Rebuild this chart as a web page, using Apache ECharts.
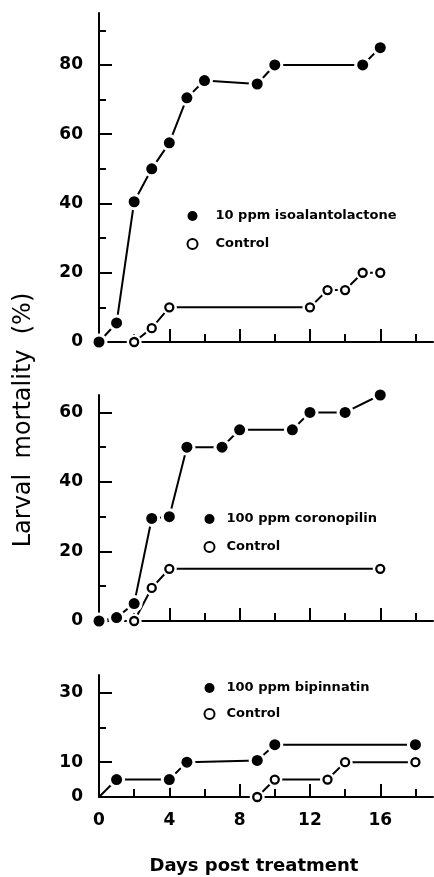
<!DOCTYPE html>
<html>
<head>
<meta charset="utf-8">
<script src="https://cdn.jsdelivr.net/npm/echarts@6/dist/echarts.min.js"></script>
<style>
html,body{margin:0;padding:0;background:#fff;}
#chart{width:434px;height:877px;}
</style>
</head>
<body>
<div id="chart"></div>
<script>
// ---- data ----
const isoDays = [0, 1, 2, 3, 4, 5, 6, 9, 10, 15, 16];
const isoVals = [0, 5.5, 40.5, 50, 57.5, 70.5, 75.5, 74.5, 80, 80, 85];
const ctl1Days = [2, 3, 4, 12, 13, 14, 15, 16];
const ctl1Vals = [0, 4, 10, 10, 15, 15, 20, 20];

const corDays = [0, 1, 2, 3, 4, 5, 7, 8, 11, 12, 14, 16];
const corVals = [0, 1, 5, 29.5, 30, 50, 50, 55, 55, 60, 60, 65];
const ctl2Days = [2, 3, 4, 16];
const ctl2Vals = [0, 9.5, 15, 15];

const bipDays = [0, 1, 4, 5, 9, 10, 18];
const bipVals = [0, 5, 5, 10, 10.5, 15, 15];
const ctl3Days = [9, 10, 13, 14, 18];
const ctl3Vals = [0, 5, 5, 10, 10];

const labels = ['10 ppm isoalantolactone', '100 ppm coronopilin', '100 ppm bipinnatin'];
const controlLabel = 'Control';
const xMajorTicks = [4, 8, 12, 16];
const xMinorTicks = [2, 6, 10, 14, 18];
const xTickLabels = [0, 4, 8, 12, 16];
const yMax = [95, 65, 35];
const yMajorTicks = [[20, 40, 60, 80], [20, 40, 60], [10, 30]];
const yMinorTicks = [[10, 30, 50, 70, 90], [10, 30, 50], [20]];
const yTickLabels = [[0, 20, 40, 60, 80], [0, 20, 40, 60], [0, 10, 30]];

// ---- layout ----
const FONT = 'DejaVu Sans';
const grids = [
  {left: 99, top: 13, width: 334, height: 329},
  {left: 99, top: 395, width: 334, height: 226},
  {left: 99, top: 675, width: 334, height: 122}
];
const black = '#000';

const xAxes = [], yAxes = [], series = [], legends = [];
grids.forEach((g, i) => {
  xAxes.push({
    gridIndex: i, type: 'value', min: 0, max: 19, position: 'bottom',
    axisLine: {show: true, onZero: false, lineStyle: {color: black, width: 2}},
    axisTick: {show: true, inside: true, length: 13, lineStyle: {color: black, width: 2}, customValues: xMajorTicks},
    axisLabel: {show: i === 2, customValues: xTickLabels, margin: 15, fontSize: 17, fontWeight: 'bold', fontFamily: FONT, color: black},
    splitLine: {show: false}
  });
  xAxes.push({
    gridIndex: i, type: 'value', min: 0, max: 19, position: 'bottom',
    axisLine: {show: false, onZero: false},
    axisTick: {show: true, inside: true, length: 8, lineStyle: {color: black, width: 2}, customValues: xMinorTicks},
    axisLabel: {show: false},
    splitLine: {show: false}
  });
  yAxes.push({
    gridIndex: i, type: 'value', min: 0, max: yMax[i], position: 'left',
    axisLine: {show: true, onZero: false, lineStyle: {color: black, width: 2}},
    axisTick: {show: true, inside: true, length: 13, lineStyle: {color: black, width: 2}, customValues: yMajorTicks[i]},
    axisLabel: {show: true, customValues: yTickLabels[i], margin: 16, fontSize: 17, fontWeight: 'bold', fontFamily: FONT, color: black},
    splitLine: {show: false}
  });
  yAxes.push({
    gridIndex: i, type: 'value', min: 0, max: yMax[i], position: 'left',
    axisLine: {show: false, onZero: false},
    axisTick: {show: true, inside: true, length: 7, lineStyle: {color: black, width: 2}, customValues: yMinorTicks[i]},
    axisLabel: {show: false},
    splitLine: {show: false}
  });
});

function addSet(panel, days, vals, name, filled, hideFirst) {
  const pts = days.map((d, k) => [d, vals[k]]);
  const mk = hideFirst ? pts.slice(1) : pts;
  const ax = {xAxisIndex: panel * 2, yAxisIndex: panel * 2};
  series.push(Object.assign({
    type: 'line', name: '_line' + panel + name, data: pts, symbol: 'none', showSymbol: false,
    lineStyle: {color: black, width: 2, opacity: 1}, z: 2, silent: true, animation: false
  }, ax));
  series.push(Object.assign({
    type: 'scatter', name: '_halo' + panel + name, data: mk, symbolSize: filled ? 17 : 15,
    itemStyle: {color: '#fff', opacity: 1}, z: 3, silent: true, animation: false
  }, ax));
  series.push(Object.assign({
    type: 'scatter', name: name, data: mk, symbolSize: filled ? 11 : 8,
    itemStyle: filled ? {color: black, opacity: 1} : {color: '#fff', borderColor: black, borderWidth: 2.3, opacity: 1},
    z: 4, silent: true, animation: false
  }, ax));
}
addSet(0, isoDays, isoVals, labels[0], true, false);
addSet(0, ctl1Days, ctl1Vals, controlLabel, false, false);
addSet(1, corDays, corVals, labels[1], true, false);
addSet(1, ctl2Days, ctl2Vals, controlLabel, false, false);
addSet(2, bipDays, bipVals, labels[2], true, true);
addSet(2, ctl3Days, ctl3Vals, controlLabel, false, false);

const legendPos = [
  {left: 181.5, top: 204, itemGap: 14, pad: 13},
  {left: 198.5, top: 507, itemGap: 14, pad: 7},
  {left: 198.5, top: 676, itemGap: 12, pad: 7}
];
legendPos.forEach((p, i) => {
  legends.push({
    left: p.left, top: p.top, orient: 'vertical', itemGap: p.itemGap,
    itemWidth: 10, itemHeight: 10, icon: 'circle', selectedMode: false,
    data: [labels[i], controlLabel],
    itemStyle: {opacity: 1},
    textStyle: {fontFamily: FONT, fontWeight: 'bold', fontSize: 13, lineHeight: 14, color: black, padding: [0, 0, 0, p.pad]}
  });
});

const chart = echarts.init(document.getElementById('chart'), null, {renderer: 'canvas'});
chart.setOption({
  backgroundColor: '#fff',
  animation: false,
  grid: grids,
  xAxis: xAxes,
  yAxis: yAxes,
  legend: legends,
  series: series,
  graphic: [
    {type: 'text', x: 24, y: 420, rotation: Math.PI / 2, silent: true,
      style: {text: 'Larval  mortality  (%)', font: '24px "DejaVu Sans"', fill: black, textAlign: 'center', textVerticalAlign: 'middle'}},
    {type: 'text', x: 254, y: 866, silent: true,
      style: {text: 'Days post treatment', font: 'bold 18px "DejaVu Sans"', fill: black, textAlign: 'center', textVerticalAlign: 'middle'}}
  ]
});
</script>
</body>
</html>
